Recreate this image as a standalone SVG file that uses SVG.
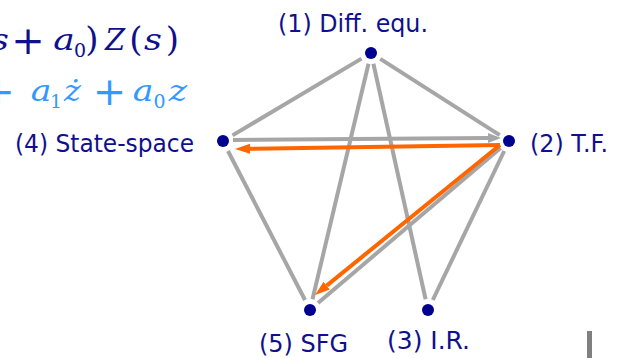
<svg xmlns="http://www.w3.org/2000/svg" width="624" height="358" viewBox="0 0 624 358">
<style>
.lbl{font-family:"DejaVu Sans","Liberation Sans",sans-serif;font-size:24px;fill:#10108c}
.m{font-family:"DejaVu Serif","Liberation Serif",serif;font-style:italic;font-size:29px;text-anchor:middle}
.mu{font-family:"DejaVu Serif","Liberation Serif",serif;font-size:34px;text-anchor:middle}
.mp{font-family:"DejaVu Serif","Liberation Serif",serif;font-size:40px;text-anchor:middle}
.ms{font-family:"DejaVu Serif","Liberation Serif",serif;font-size:19px;text-anchor:middle}
.d{fill:#10108c}
.l{fill:#3399ff}
.e{stroke:#a6a6a6;stroke-width:4;fill:none}
.o{stroke:#ff6600;stroke-width:4;fill:none}
.n{fill:#000090}
</style>
<defs>
<marker id="ag" markerUnits="userSpaceOnUse" markerWidth="14" markerHeight="12" refX="0" refY="5" orient="auto"><path d="M0,0 L13,5 L0,10 Z" fill="#a6a6a6"/></marker>
<marker id="ao" markerUnits="userSpaceOnUse" markerWidth="16" markerHeight="12" refX="0" refY="5" orient="auto"><path d="M0,0 L15,5 L0,10 Z" fill="#ff6600"/></marker>
</defs>
<g id="math">
<text class="m d" transform="translate(0,50) scale(1.2,1)">s</text>
<text class="mp d" x="28" y="54">+</text>
<text class="m d" transform="translate(64,50) scale(1.25,1)">a</text>
<text class="ms d" x="80" y="57">0</text>
<text class="mu d" x="92" y="51">)</text>
<text class="m d" x="115" y="50">Z</text>
<text class="mu d" x="136" y="51">(</text>
<text class="m d" transform="translate(153,50) scale(1.2,1)">s</text>
<text class="mu d" x="172.5" y="51">)</text>
<text class="mp l" x="-2" y="105">+</text>
<text class="m l" transform="translate(41,101) scale(1.2,1)">a</text>
<text class="ms l" x="56" y="108">1</text>
<text class="m l" transform="translate(72.5,101) scale(1.1,1)">ż</text>
<text class="mp l" x="109.5" y="105">+</text>
<text class="m l" transform="translate(143,101) scale(1.2,1)">a</text>
<text class="ms l" x="159.5" y="108">0</text>
<text class="m l" transform="translate(178,101) scale(1.2,1)">z</text>
</g>
<g id="connectors">
<line class="e" x1="361.5" y1="58.6" x2="232.5" y2="135.4"/>
<line class="e" x1="380.3" y1="58.9" x2="499.7" y2="135.1"/>
<line class="e" x1="368.5" y1="63.7" x2="312.5" y2="299.3"/>
<line class="e" x1="373.4" y1="63.7" x2="425.6" y2="299.3"/>
<line class="e" x1="228" y1="151" x2="305" y2="300"/>
<line class="e" x1="504.2" y1="151" x2="432.8" y2="300"/>
<line class="e" x1="500.6" y1="148" x2="318" y2="303"/>
<line class="e" x1="233" y1="140" x2="488" y2="138.1" marker-end="url(#ag)"/>
<line class="o" x1="500" y1="145" x2="250" y2="148.8" marker-end="url(#ao)"/>
<line class="o" x1="500" y1="145" x2="326.7" y2="285.6" marker-end="url(#ao)"/>
</g>
<g id="n1"><circle class="n" cx="371" cy="53" r="6"/><text class="lbl" x="278" y="32" textLength="150" lengthAdjust="spacingAndGlyphs">(1) Diff. equ.</text></g>
<g id="n2"><circle class="n" cx="509" cy="141" r="6"/><text class="lbl" x="530" y="152" textLength="78" lengthAdjust="spacingAndGlyphs">(2) T.F.</text></g>
<g id="n3"><circle class="n" cx="428" cy="310" r="6"/><text class="lbl" x="387" y="349" textLength="83" lengthAdjust="spacingAndGlyphs">(3) I.R.</text></g>
<g id="n4"><circle class="n" cx="223" cy="141" r="6"/><text class="lbl" x="15" y="152" textLength="179" lengthAdjust="spacingAndGlyphs">(4) State-space</text></g>
<g id="n5"><circle class="n" cx="310" cy="310" r="6"/><text class="lbl" x="259" y="352" textLength="89" lengthAdjust="spacingAndGlyphs">(5) SFG</text></g>
<rect x="587" y="331" width="5" height="27" fill="#808080"/>
</svg>
